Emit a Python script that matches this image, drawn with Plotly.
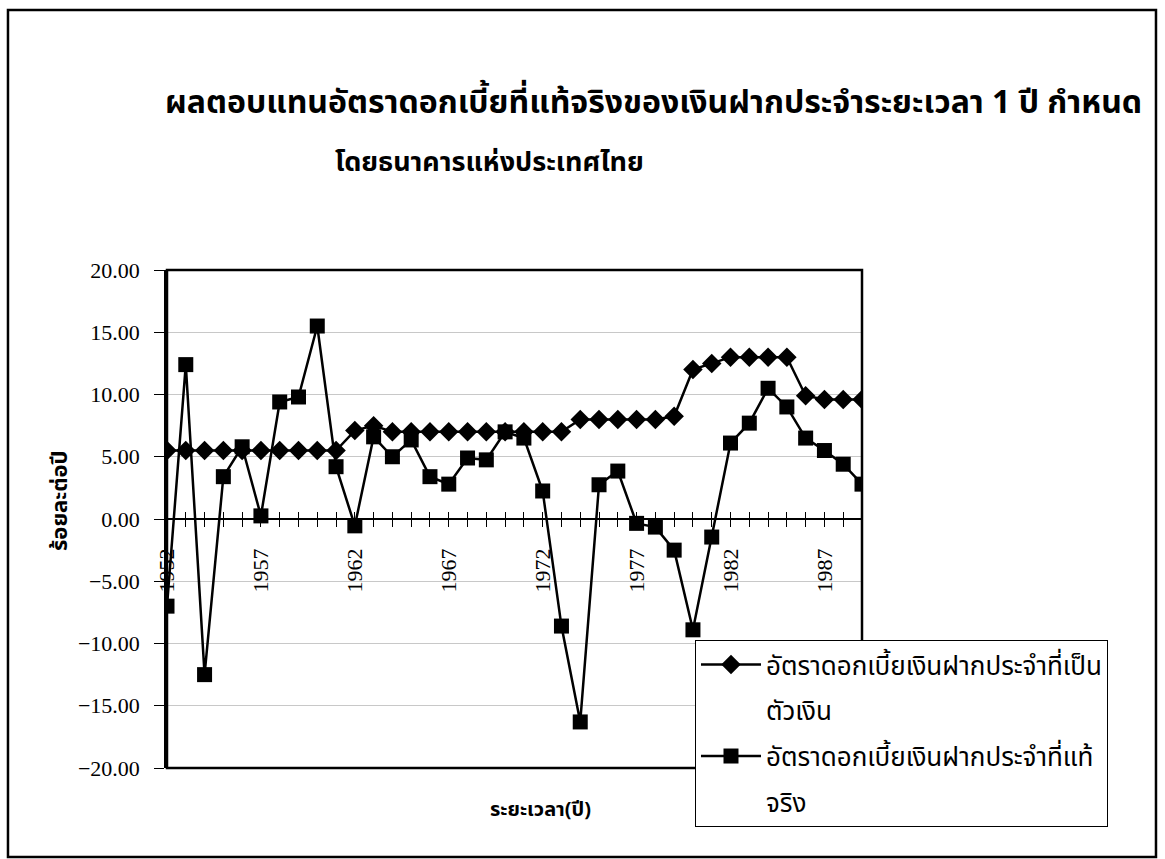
import plotly.graph_objects as go

years = list(range(1952, 1990))
label_years = [1952, 1957, 1962, 1967, 1972, 1977, 1982, 1987]

nominal = [5.5, 5.5, 5.5, 5.5, 5.5, 5.5, 5.5, 5.5, 5.5, 5.5,
           7.1, 7.5, 7.0, 7.0, 7.0, 7.0, 7.0, 7.0, 7.0, 7.0,
           7.0, 7.0, 8.0, 8.0, 8.0, 8.0, 8.0, 8.25, 12.0, 12.5,
           13.0, 13.0, 13.0, 13.0, 9.9, 9.6, 9.6, 9.6]

real = [-7.0, 12.4, -12.5, 3.4, 5.8, 0.25, 9.4, 9.8, 15.5, 4.2,
        -0.55, 6.6, 5.0, 6.35, 3.4, 2.8, 4.9, 4.75, 7.0, 6.5,
        2.25, -8.6, -16.3, 2.75, 3.85, -0.35, -0.65, -2.5, -8.9, -1.45,
        6.1, 7.7, 10.5, 9.0, 6.5, 5.5, 4.4, 2.8]

# legend labels (wrapped over two lines as in the original)
name_nominal = ["อัตราดอกเบี้ยเงินฝากประจำที่เป็น", "ตัวเงิน"]
name_real = ["อัตราดอกเบี้ยเงินฝากประจำที่แท้", "จริง"]
title1 = "ผลตอบแทนอัตราดอกเบี้ยที่แท้จริงของเงินฝากประจำระยะเวลา 1 ปี กำหนด"
title2 = "โดยธนาคารแห่งประเทศไทย"
ytitle = "ร้อยละต่อปี"
xtitle = "ระยะเวลา(ปี)"

thai = "Noto Sans Thai, Loma, Garuda, Norasi, Tlwg Typist, Noto Sans, DejaVu Sans, sans-serif"
serif = "Liberation Serif, Times New Roman, serif"

fig = go.Figure()
fig.add_trace(go.Scatter(
    x=years, y=nominal, name=name_nominal[0], mode="lines+markers",
    legendgroup="g1", legendrank=1,
    line=dict(color="black", width=2.5),
    marker=dict(symbol="diamond", size=15, color="black"),
))
# continuation line of the first legend label (no symbol, no data drawn)
fig.add_trace(go.Scatter(
    x=[None], y=[None], name=name_nominal[1], mode="none",
    legendgroup="g2", legendrank=2, showlegend=True, hoverinfo="skip",
))
fig.add_trace(go.Scatter(
    x=years, y=real, name=name_real[0], mode="lines+markers", xaxis="x2",
    legendgroup="g3", legendrank=3,
    line=dict(color="black", width=2.5),
    marker=dict(symbol="square", size=15, color="black"),
))
fig.add_trace(go.Scatter(
    x=[None], y=[None], name=name_real[1], mode="none",
    legendgroup="g4", legendrank=4, showlegend=True, hoverinfo="skip",
))

ticktext = [str(y) if y in label_years else "" for y in years]

fig.update_layout(
    width=1165, height=859,
    paper_bgcolor="white", plot_bgcolor="white",
    margin=dict(l=167, r=303, t=270, b=91),
    showlegend=True,
    xaxis=dict(
        range=[1952, 1989], anchor="free", position=0.5,
        tickmode="array", tickvals=years, ticktext=ticktext,
        ticks="outside", ticklen=7, tickwidth=1, tickcolor="black",
        showline=True, linecolor="black", linewidth=1.5,
        showgrid=False, zeroline=False, tickangle=-90,
        ticklabelstandoff=13,
        tickfont=dict(family=serif, size=22, color="black"),
    ),
    xaxis2=dict(
        range=[1952, 1989], anchor="free", position=0.5, overlaying="x",
        side="bottom",
        tickmode="array", tickvals=years, ticktext=["" for _ in years],
        ticks="inside", ticklen=7, tickwidth=1, tickcolor="black",
        showline=False, showgrid=False, zeroline=False,
    ),
    yaxis=dict(
        range=[-20, 20], tick0=0, dtick=5, tickformat=".2f",
        ticks="outside", ticklen=10, tickcolor="black", tickwidth=1,
        showline=True, linecolor="black", linewidth=2.5,
        showgrid=True, gridcolor="#c8c8c8", gridwidth=1,
        zeroline=False, ticklabelstandoff=10,
        tickfont=dict(family=serif, size=22, color="black"),
    ),
    legend=dict(
        x=0.7597, y=0.257, xanchor="left", yanchor="top",
        bgcolor="white", bordercolor="black", borderwidth=1,
        font=dict(family=thai, size=26, color="black"),
        itemwidth=60, traceorder="grouped", tracegroupgap=9,
    ),
    shapes=[
        dict(type="rect", xref="paper", yref="paper", x0=0, x1=1, y0=0, y1=1,
             line=dict(color="black", width=2.5), layer="above"),
        dict(type="rect", xref="paper", yref="paper",
             x0=-0.2288, x1=1.423, y0=-0.1787, y1=1.522,
             line=dict(color="black", width=2.5)),
    ],
    annotations=[
        dict(text="<b>" + title1 + "</b>", xref="paper", yref="paper",
             x=0.7007, y=1.335, xanchor="center", yanchor="middle",
             showarrow=False, font=dict(family=thai, size=32, color="black")),
        dict(text="<b>" + title2 + "</b>", xref="paper", yref="paper",
             x=0.2388, y=1.215, xanchor="left", yanchor="middle",
             showarrow=False, font=dict(family=thai, size=27, color="black")),
        dict(text="<b>" + ytitle + "</b>", xref="paper", yref="paper",
             x=-0.154, y=0.538, xanchor="center", yanchor="middle",
             textangle=-90, showarrow=False,
             font=dict(family=thai, size=22, color="black")),
        dict(text="<b>" + xtitle + "</b>", xref="paper", yref="paper",
             x=0.5367, y=-0.0843, xanchor="center", yanchor="middle",
             showarrow=False, font=dict(family=thai, size=20, color="black")),
    ],
)

fig.write_html("out.html")
